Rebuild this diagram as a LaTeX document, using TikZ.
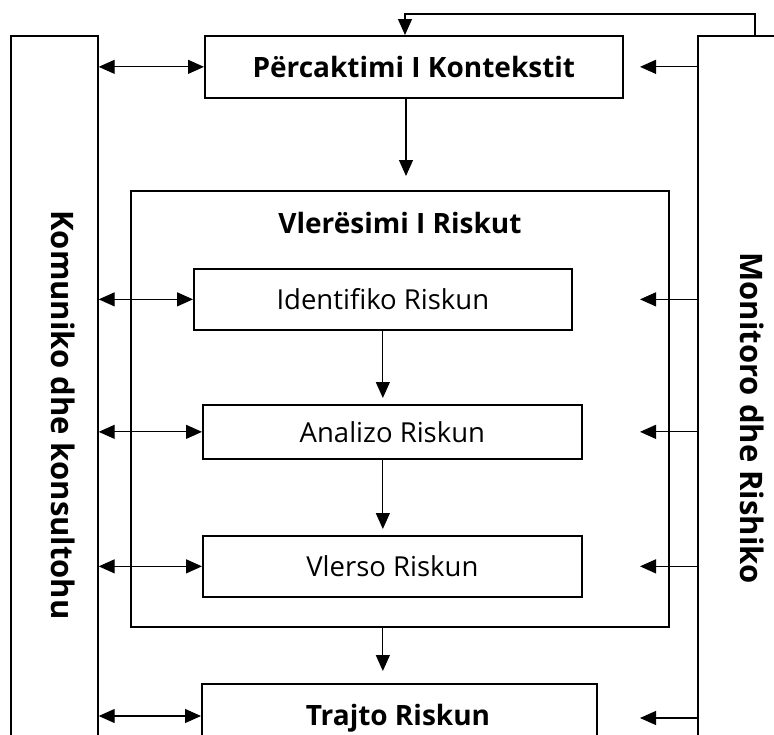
\documentclass[tikz,border=0pt]{standalone}
\usepackage{fontspec}
\setmainfont{Open Sans}
\usepackage{tikz}
\usetikzlibrary{positioning,arrows.meta}

\begin{document}
\begin{tikzpicture}[
    x=1pt,
    y=-1pt,
    >={Triangle[length=16pt,width=14pt]},
    line width=1.2pt
]

\tikzstyle{box}=[
    draw,
    line width=1.7pt,
    anchor=north west,
    inner sep=0pt,
    align=center
]
\tikzstyle{boldtext}=[font=\fontsize{28}{32}\selectfont\bfseries]
\tikzstyle{plaintext}=[font=\fontsize{27.5}{32}\selectfont]
\tikzstyle{side}=[
    font=\fontsize{31}{36}\selectfont\bfseries,
    rotate=-90
]

\clip (0,0) rectangle (774,734);

\node[box, minimum width=87, minimum height=740] (komun) at (10,35) {};
\node[box, minimum width=120, minimum height=740] (monitor) at (697,35) {};
\node[side] (komunText) at (63,415) {Komuniko dhe konsultohu};
\node[side] (monitorText) at (752,418) {Monitoro dhe Rishiko};

\node[box, boldtext, minimum width=418, minimum height=62] (kontekst) at (204,35) {Përcaktimi I Kontekstit};
\node[box, minimum width=538, minimum height=436] (vleresim) at (130,190) {};
\node[boldtext] (vleresimTitle) at (400,223) {Vlerësimi I Riskut};
\node[box, plaintext, minimum width=378, minimum height=61] (identif) at (193,268) {Identifiko Riskun};
\node[box, plaintext, minimum width=379, minimum height=54] (analizo) at (202,404) {Analizo Riskun};
\node[box, plaintext, minimum width=379, minimum height=61] (vlerso) at (202,535) {Vlerso Riskun};
\node[box, minimum width=395, minimum height=100] (trajto) at (201,683) {};
\node[boldtext] (trajtoText) at (398,718) {Trajto Riskun};

\draw[->, shorten >=14pt] (kontekst.south -| 406,0) -- (vleresim.north -| 406,0);
\draw[->, shorten >=6pt] (identif.south) -- (analizo.north -| identif.south);
\draw[->, shorten >=6pt] (analizo.south -| identif.south) -- (vlerso.north -| identif.south);
\draw[->, shorten >=12pt] (vleresim.south -| identif.south) -- (trajto.north -| identif.south);

\foreach \b in {kontekst,identif,analizo,vlerso}
    \draw[<->] (komun.east |- \b.west) -- (\b.west);
\draw[<->] (komun.east |- 0,716) -- (trajto.west |- 0,716);

\foreach \b in {kontekst,identif,analizo,vlerso}
    \draw[->] (monitor.west |- \b.east) -- ++(-57,0);
\draw[->] (monitor.west |- 0,718) -- ++(-57,0);

\coordinate (fb) at (monitor.north -| 755,0);
\draw[->] (fb) -- ++(0,-21) -| (kontekst.north -| 405,0);

\end{tikzpicture}
\end{document}
